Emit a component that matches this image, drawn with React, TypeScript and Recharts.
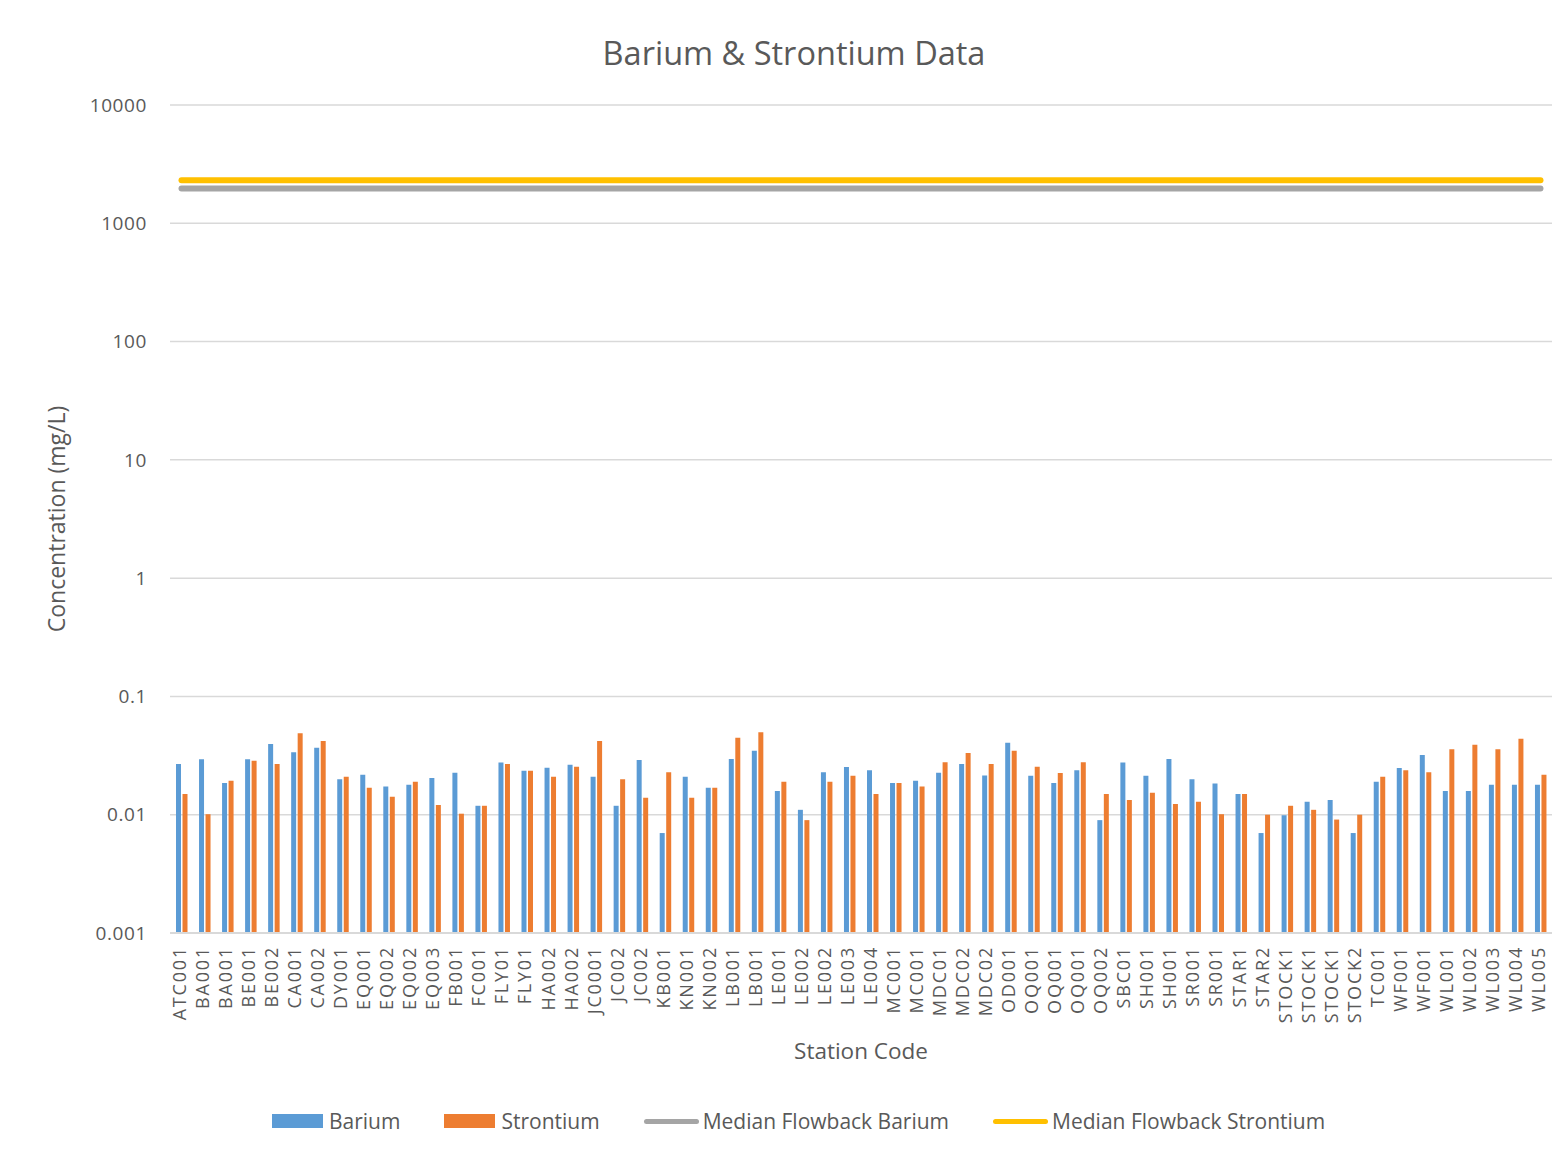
import {
  ComposedChart,
  CartesianGrid,
  XAxis,
  YAxis,
  Bar,
  Line,
} from "recharts";

const stations = [
  "ATC001", "BA001", "BA001", "BE001", "BE002", "CA001", "CA002", "DY001", "EQ001", "EQ002",
  "EQ002", "EQ003", "FB001", "FC001", "FLY01", "FLY01", "HA002", "HA002", "JC0001", "JC002",
  "JC002", "KB001", "KN001", "KN002", "LB001", "LB001", "LE001", "LE002", "LE002", "LE003",
  "LE004", "MC001", "MC001", "MDC01", "MDC02", "MDC02", "OD001", "OQ001", "OQ001", "OQ001",
  "OQ002", "SBC01", "SH001", "SH001", "SR001", "SR001", "STAR1", "STAR2", "STOCK1", "STOCK1",
  "STOCK1", "STOCK2", "TC001", "WF001", "WF001", "WL001", "WL002", "WL003", "WL004", "WL005",
];

const barium = [
  0.0269, 0.0295, 0.0185, 0.0295, 0.0397, 0.0338, 0.0368, 0.0199, 0.0218, 0.0173,
  0.0179, 0.0204, 0.0226, 0.0119, 0.0276, 0.0235, 0.0249, 0.0264, 0.0209, 0.0119,
  0.029, 0.007, 0.0209, 0.0169, 0.0296, 0.0347, 0.0159, 0.011, 0.0229, 0.0253,
  0.0238, 0.0185, 0.0194, 0.0226, 0.0269, 0.0215, 0.0405, 0.0213, 0.0185, 0.0238,
  0.009, 0.0276, 0.0213, 0.0296, 0.0199, 0.0184, 0.015, 0.007, 0.0099, 0.0129,
  0.0133, 0.007, 0.019, 0.0248, 0.0319, 0.0159, 0.0159, 0.0179, 0.0179, 0.0179,
];

const strontium = [
  0.015, 0.0101, 0.0194, 0.0286, 0.0269, 0.0489, 0.0419, 0.0209, 0.0169, 0.0142,
  0.019, 0.0121, 0.0102, 0.0119, 0.0268, 0.0235, 0.0209, 0.0254, 0.0419, 0.0199,
  0.0139, 0.0229, 0.0139, 0.0169, 0.0447, 0.0499, 0.019, 0.009, 0.019, 0.0213,
  0.015, 0.0185, 0.0173, 0.0278, 0.0332, 0.0268, 0.0347, 0.0254, 0.0225, 0.0278,
  0.015, 0.0133, 0.0153, 0.0123, 0.0129, 0.0101, 0.015, 0.01, 0.0119, 0.011,
  0.0091, 0.01, 0.0209, 0.0238, 0.0229, 0.0358, 0.039, 0.0358, 0.0438, 0.0218,
];

const medianBarium = 1970;
const medianStrontium = 2310;

const yTicks = [0.001, 0.01, 0.1, 1, 10, 100, 1000, 10000];

const data = stations.map((code, i) => ({
  code,
  barium: barium[i],
  strontium: strontium[i],
  medBa: medianBarium,
  medSr: medianStrontium,
}));

const FONT = "'Open Sans', sans-serif";
const TEXT = "#595959";

// rotated station labels, reading bottom to top
function StationTick(props: any) {
  const { x, y, payload } = props;
  return (
    <text
      x={x - 2}
      y={y}
      transform={`rotate(-90, ${x - 2}, ${y})`}
      textAnchor="end"
      dy="0.36em"
      fill={TEXT}
      fontSize={18}
      letterSpacing={1.8}
      fontFamily={FONT}
    >
      {payload.value}
    </text>
  );
}

function LegendItem({ kind, color, label }: { kind: "bar" | "line"; color: string; label: string }) {
  return (
    <div style={{ display: "flex", alignItems: "center", marginRight: 44 }}>
      {kind === "bar" ? (
        <span style={{ width: 51, height: 14, background: color, marginRight: 6 }} />
      ) : (
        <span style={{ width: 55, height: 5, background: color, borderRadius: 3, marginRight: 4 }} />
      )}
      <span>{label}</span>
    </div>
  );
}

export default function App() {
  return (
    <div
      style={{
        position: "relative",
        width: 1562,
        height: 1150,
        marginLeft: -1,
        marginTop: -1,
        fontFamily: FONT,
        color: TEXT,
        background: "#fff",
      }}
    >
      <div
        style={{
          position: "absolute",
          inset: 0,
          border: "1px solid #d9d9d9",
          pointerEvents: "none",
        }}
      />
      <div
        style={{
          position: "absolute",
          top: 23,
          left: 787,
          transform: "translateX(-50%)",
          fontSize: 32.5,
          whiteSpace: "nowrap",
        }}
      >
        Barium &amp; Strontium Data
      </div>

      <ComposedChart
        width={1562}
        height={1150}
        data={data}
        margin={{ top: 98, right: 17, left: 32, bottom: 74 }}
        barSize={5}
        barGap={1.5}
      >
        <CartesianGrid stroke="#d9d9d9" strokeWidth={1.5} vertical={false} />
        <XAxis
          dataKey="code"
          interval={0}
          height={150}
          tickLine={false}
          tickSize={0}
          tickMargin={13}
          axisLine={{ stroke: "#d9d9d9", strokeWidth: 2 }}
          tick={<StationTick />}
          label={{
            value: "Station Code",
            position: "insideBottom",
            offset: 24,
            fill: TEXT,
            fontSize: 22.5,
            fontFamily: FONT,
          }}
        />
        <YAxis
          scale="log"
          domain={[0.001, 10000]}
          ticks={yTicks}
          allowDataOverflow
          width={131}
          axisLine={false}
          tickLine={false}
          tickSize={0}
          tickMargin={23}
          tick={{ fill: TEXT, fontSize: 19, fontFamily: FONT, letterSpacing: 0.6 }}
          label={{
            value: "Concentration (mg/L)",
            angle: -90,
            position: "insideLeft",
            offset: 18,
            fill: TEXT,
            fontSize: 23,
            fontFamily: FONT,
            style: { textAnchor: "middle" },
          }}
        />
        <Bar dataKey="barium" name="Barium" fill="#5b9bd5" isAnimationActive={false} />
        <Bar dataKey="strontium" name="Strontium" fill="#ed7d31" isAnimationActive={false} />
        <Line
          type="linear"
          dataKey="medBa"
          name="Median Flowback Barium"
          stroke="#a5a5a5"
          strokeWidth={6}
          strokeLinecap="round"
          dot={false}
          activeDot={false}
          isAnimationActive={false}
        />
        <Line
          type="linear"
          dataKey="medSr"
          name="Median Flowback Strontium"
          stroke="#ffc000"
          strokeWidth={6}
          strokeLinecap="round"
          dot={false}
          activeDot={false}
          isAnimationActive={false}
        />
      </ComposedChart>

      {/* legend */}
      <div
        style={{
          position: "absolute",
          top: 1100,
          left: 265,
          display: "flex",
          alignItems: "center",
          fontSize: 21,
          whiteSpace: "nowrap",
        }}
      >
        <LegendItem kind="bar" color="#5b9bd5" label="Barium" />
        <LegendItem kind="bar" color="#ed7d31" label="Strontium" />
        <LegendItem kind="line" color="#a5a5a5" label="Median Flowback Barium" />
        <LegendItem kind="line" color="#ffc000" label="Median Flowback Strontium" />
      </div>
    </div>
  );
}
